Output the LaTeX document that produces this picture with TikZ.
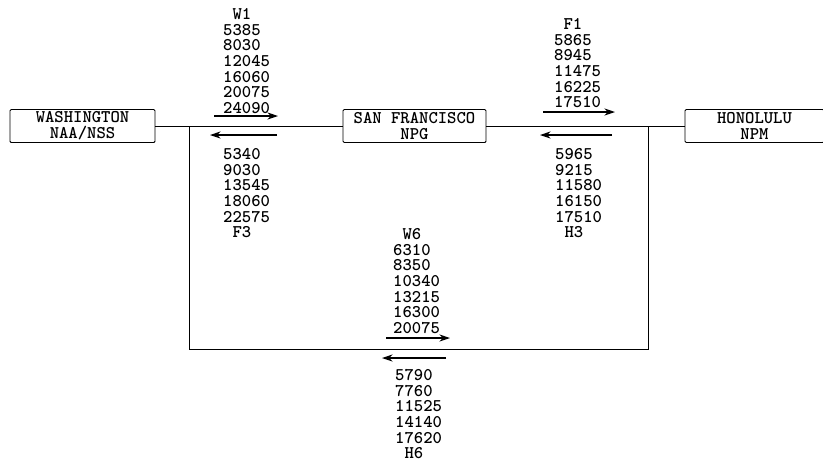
\documentclass[tikz,border=0pt]{standalone}
\usepackage{fontspec}
\usetikzlibrary{arrows.meta}

\tikzset{
  station/.style={draw, line width=0.8pt, rounded corners=1pt, inner sep=0pt,
    align=center, minimum height=0.99cm},
  freqs/.style={anchor=north west, inner sep=0pt, align=left},
  route/.style={line width=0.8pt},
  dir/.style={line width=1pt, -{Stealth[length=9pt,width=6pt]}},
  every node/.style={font=\fontsize{15.2pt}{13.4pt}\selectfont\ttfamily\bfseries}
}

\begin{document}
\begin{tikzpicture}[x=0.03cm, y=-0.03cm]
    \useasboundingbox (0,0) rectangle (823,463);

    % Stations
    \node[station, minimum width=4.35cm] (wash) at (82.5,126) {WASHINGTON\\NAA/NSS};
    \node[station, minimum width=4.29cm] (sf) at (414.5,126) {SAN FRANCISCO\\NPG};
    \node[station, minimum width=4.17cm] (hon) at (754.5,126) {HONOLULU\\NPM};

    % Circuit lines
    \draw[route] (wash) -- (sf);
    \draw[route] (sf) -- (hon);

    \coordinate (jl) at (189,126);
    \coordinate (jr) at (648,126);
    \coordinate (bl) at (189,349);
    \coordinate (br) at (648,349);
    \draw[route] (jl) -- (bl) -- (br) -- (jr);

    % Frequencies, Washington - San Francisco
    \node[freqs] (w1) at (223,8) {\phantom{0}W1\\5385\\8030\\12045\\16060\\20075\\24090};
    \draw[dir] (214,116) -- (278,116);
    \draw[dir] (277,135) -- (210,135);
    \node[freqs] (f3) at (223,148) {5340\\9030\\13545\\18060\\22575\\\phantom{0}F3};

    % Frequencies, San Francisco - Honolulu
    \node[freqs] (f1) at (554,18) {\phantom{0}F1\\5865\\8945\\11475\\16225\\17510};
    \draw[dir] (543,112) -- (615,112);
    \draw[dir] (612,135) -- (540,135);
    \node[freqs] (h3) at (555,148) {5965\\9215\\11580\\16150\\17510\\\phantom{0}H3};

    % Frequencies, Washington - Honolulu
    \node[freqs] (w6) at (393,228) {\phantom{0}W6\\6310\\8350\\10340\\13215\\16300\\20075};
    \draw[dir] (386,338) -- (450,338);
    \draw[dir] (446,358) -- (382,358);
    \node[freqs] (h6) at (395,369) {5790\\7760\\11525\\14140\\17620\\\phantom{0}H6};

\end{tikzpicture}
\end{document}
